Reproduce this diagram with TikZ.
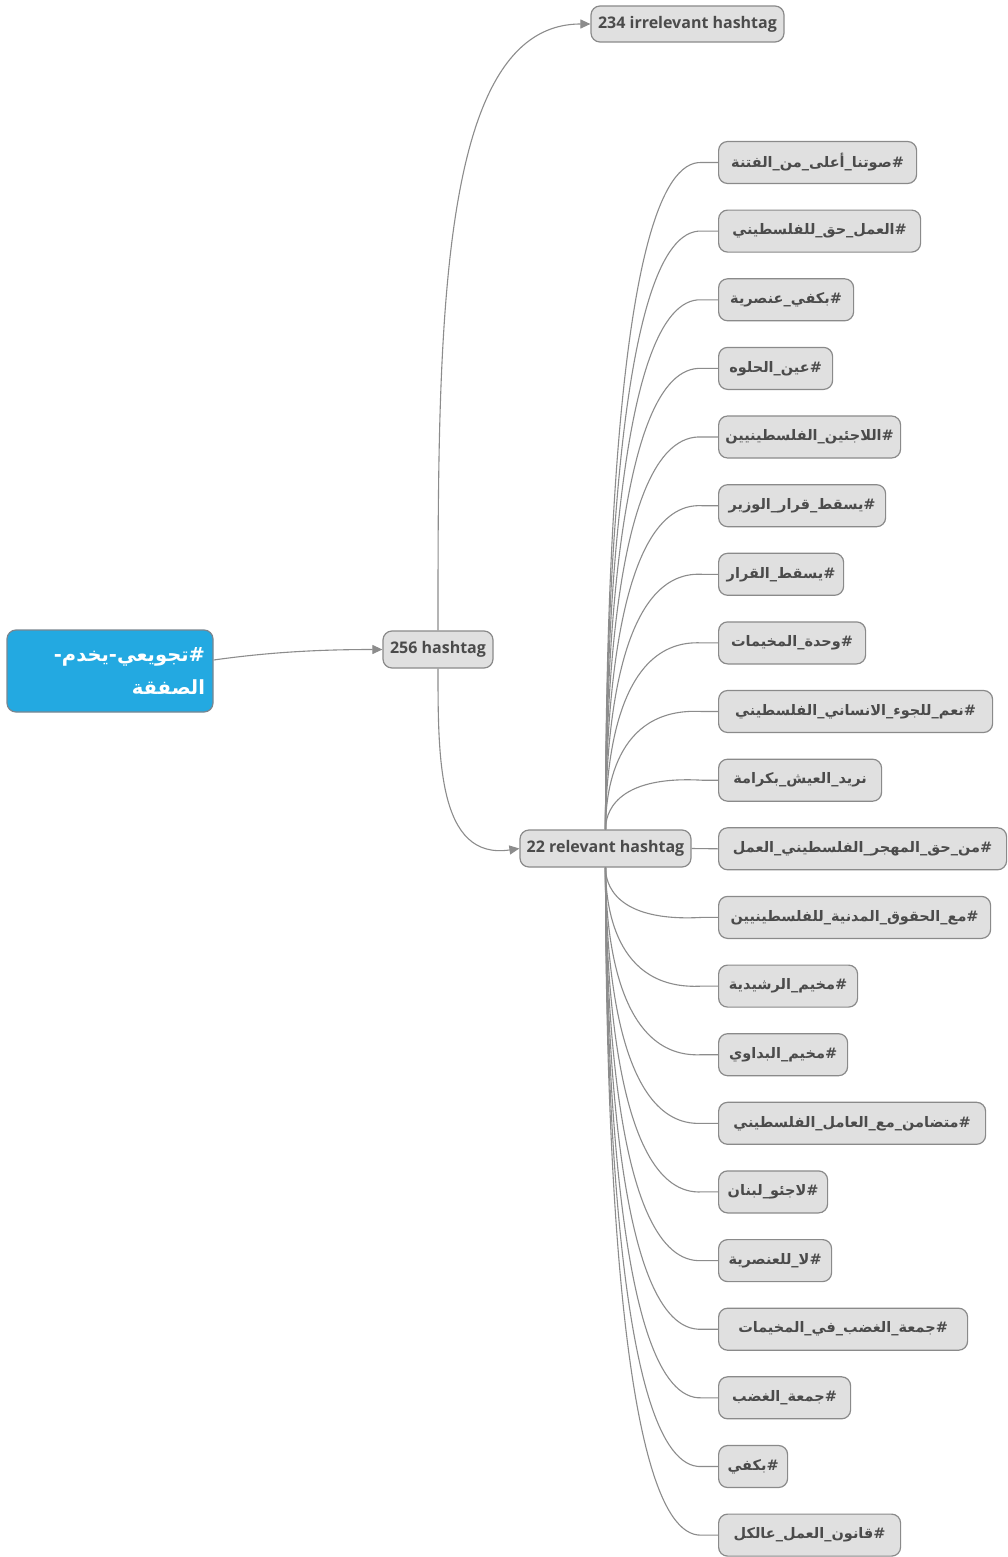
\documentclass[tikz,border=0pt]{standalone}
\usepackage{fontspec}
\setmainfont{Open Sans}
\newfontfamily\arabicfont[Script=Arabic]{DejaVu Sans}
\usetikzlibrary{arrows.meta,calc}
\TeXXeTstate=1
\definecolor{leaffill}{HTML}{E0E0E0}
\definecolor{leafdraw}{HTML}{8A8A8A}
\definecolor{txtgray}{HTML}{4B4B4B}
\definecolor{linegray}{HTML}{8C8C8C}
\definecolor{rootblue}{HTML}{23A9E1}
\definecolor{rootdraw}{HTML}{7A8690}
\tikzset{
  boxbase/.style={draw=leafdraw, fill=leaffill, line width=1.2pt, rounded corners=9pt, text=txtgray, inner sep=0pt},
  leaf/.style={boxbase, anchor=west, minimum height=42pt, font=\arabicfont\bfseries\fontsize{14.5}{17}\selectfont},
  midbox/.style={boxbase, minimum height=37pt, font=\bfseries\fontsize{16}{19}\selectfont},
  rootbox/.style={draw=rootdraw, fill=rootblue, line width=1.2pt, rounded corners=9pt, text=white, inner xsep=8pt, inner ysep=0pt, minimum height=82pt, text width=190pt, align=right, font=\arabicfont\bfseries\fontsize{19.5}{33}\selectfont},
  conn/.style={draw=linegray, line width=1.1pt},
  arr/.style={conn, -{Triangle[length=10pt,width=9pt]}}
}
\begin{document}
\catcode`\_=12
\catcode`\#=12
\begin{tikzpicture}[x=1pt,y=-1pt]
\useasboundingbox[fill=white] (0,0) rectangle (1008,1557);

\node[rootbox] (root) at (110,671) {\beginR #تجويعي-يخدم-\endR\\\beginR الصفقة\endR};
\node[midbox, minimum width=110pt] (n256) at (438,649.5) {256 hashtag};
\node[midbox, minimum width=193pt, minimum height=36pt] (n234) at (687.5,24) {234 irrelevant hashtag};
\node[midbox, minimum width=171pt] (rel) at (605.5,848.5) {22 relevant hashtag};

\node[leaf, minimum width=198pt] (l1) at (718,162.5) {\beginR #صوتنا_أعلى_من_الفتنة\endR};
\node[leaf, minimum width=202pt] (l2) at (718,231.1) {\beginR #العمل_حق_للفلسطيني\endR};
\node[leaf, minimum width=135pt] (l3) at (718,299.8) {\beginR #بكفي_عنصرية\endR};
\node[leaf, minimum width=114pt] (l4) at (718,368.4) {\beginR #عين_الحلوه\endR};
\node[leaf, minimum width=182pt] (l5) at (718,437.0) {\beginR #اللاجئين_الفلسطينيين\endR};
\node[leaf, minimum width=167pt] (l6) at (718,505.7) {\beginR #يسقط_قرار_الوزير\endR};
\node[leaf, minimum width=125pt] (l7) at (718,574.3) {\beginR #يسقط_القرار\endR};
\node[leaf, minimum width=147pt] (l8) at (718,642.9) {\beginR #وحدة_المخيمات\endR};
\node[leaf, minimum width=274pt] (l9) at (718,711.5) {\beginR #نعم_للجوء_الانساني_الفلسطيني\endR};
\node[leaf, minimum width=163pt] (l10) at (718,780.2) {\beginR نريد_العيش_بكرامة\endR};
\node[leaf, minimum width=288pt] (l11) at (718,848.8) {\beginR #من_حق_المهجر_الفلسطيني_العمل\endR};
\node[leaf, minimum width=272pt] (l12) at (718,917.4) {\beginR #مع_الحقوق_المدنية_للفلسطينيين\endR};
\node[leaf, minimum width=139pt] (l13) at (718,986.1) {\beginR #مخيم_الرشيدية\endR};
\node[leaf, minimum width=129pt] (l14) at (718,1054.7) {\beginR #مخيم_البداوي\endR};
\node[leaf, minimum width=267pt] (l15) at (718,1123.3) {\beginR #متضامن_مع_العامل_الفلسطيني\endR};
\node[leaf, minimum width=109pt] (l16) at (718,1191.9) {\beginR #لاجئو_لبنان\endR};
\node[leaf, minimum width=113pt] (l17) at (718,1260.6) {\beginR #لا_للعنصرية\endR};
\node[leaf, minimum width=249pt] (l18) at (718,1329.2) {\beginR #جمعة_الغضب_في_المخيمات\endR};
\node[leaf, minimum width=132pt] (l19) at (718,1397.8) {\beginR #جمعة_الغضب\endR};
\node[leaf, minimum width=69pt] (l20) at (718,1466.5) {\beginR #بكفي\endR};
\node[leaf, minimum width=182pt] (l21) at (718,1535.1) {\beginR #قانون_العمل_عالكل\endR};

% root -> 256
\coordinate (rs) at ([yshift=11pt]root.east);
\draw[arr] (rs) .. controls ($(rs)+(50,-7)$) and ($(n256.west)+(-70,0)$) .. (n256.west);
% 256 -> 234
\draw[arr] (n256.north) .. controls ($(n256.north)!0.5!(n256.north|-n234.west)$) and (n256.north|-n234.west) .. (n234.west);
% 256 -> 22
\draw[arr] (n256.south) .. controls ($(n256.south)!0.5!(n256.south|-rel.west)$) and ($(n256.south|-rel.west)+(0,12)$) .. (rel.west);

% rel -> leaves above
\foreach \i in {1,...,10} {
  \draw[conn] (rel.north) .. controls ($(rel.north)!0.3!(rel.north|-l\i.west)$) and ($(rel.north|-l\i.west)+(8,-5)$) .. ($(l\i.west)+(-16,0)$) -- (l\i.west);
}
\draw[conn] (rel.east) -- (l11.west);
\foreach \i in {12,...,21} {
  \draw[conn] (rel.south) .. controls ($(rel.south)!0.3!(rel.south|-l\i.west)$) and ($(rel.south|-l\i.west)+(8,5)$) .. ($(l\i.west)+(-16,0)$) -- (l\i.west);
}
\end{tikzpicture}
\end{document}
